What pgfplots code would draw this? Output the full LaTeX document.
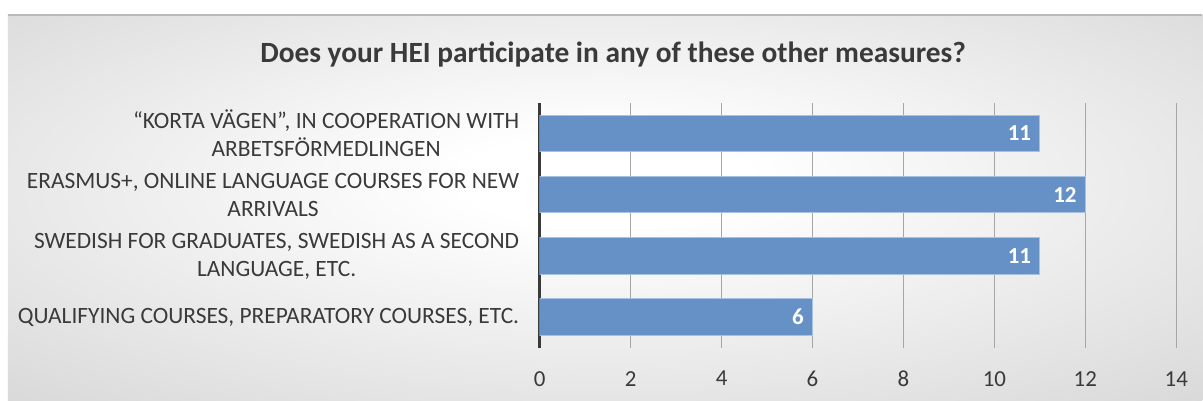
\documentclass[border=0pt]{standalone}
\usepackage{pgfplots}
\pgfplotsset{compat=1.18}
\usepackage{fontspec}
\setmainfont{Carlito}
\definecolor{barblue}{HTML}{6591C6}
\definecolor{baredge}{HTML}{A7C1E2}
\definecolor{txt}{HTML}{3A3A3A}
\definecolor{gridc}{HTML}{A6A6A6}
\definecolor{bgmid}{HTML}{C9C9C9}
\definecolor{bgdark}{HTML}{BDBDBD}
\pgfdeclareradialshading{bgshade}{\pgfpoint{0bp}{4bp}}{color(0bp)=(white); color(6bp)=(white); color(50bp)=(bgmid); color(72bp)=(bgdark)}
\begin{document}
\begin{tikzpicture}[x=1bp,y=1bp]
\path[fill=white] (0,0) rectangle (1203,401);
\shade[shading=bgshade] (8,0) rectangle (1203,386);
\draw[color=gray!55, line width=1.5bp] (8,386) -- (1203,386);
\node[font={\fontsize{29.5}{33}\selectfont\bfseries}, text=txt] at (613.5,346) {Does your HEI participate in any of these other measures?};
\begin{axis}[
  at={(540bp,53bp)}, anchor=south west, scale only axis,
  width=637bp, height=245bp,
  xbar, bar width=36.5bp,
  xmin=0, xmax=14, ymin=-0.5, ymax=3.5,
  xtick={0,2,...,14},
  ytick={0,1,2,3},
  yticklabels={{QUALIFYING COURSES, PREPARATORY COURSES, ETC.},
               {SWEDISH FOR GRADUATES, SWEDISH AS A SECOND\\LANGUAGE, ETC.},
               {ERASMUS+, ONLINE LANGUAGE COURSES FOR NEW\\ARRIVALS},
               {“KORTA VÄGEN”, IN COOPERATION WITH\\ARBETSFÖRMEDLINGEN}},
  yticklabel style={align=center, font={\fontsize{23.5}{28}\selectfont}, text=txt, xshift=-17bp},
  xticklabel style={font={\fontsize{23}{26}\selectfont}, text=txt, yshift=-20bp},
  /pgf/number format/assume math mode=true,
  major tick length=0pt,
  axis lines=left,
  x axis line style={draw=none},
  y axis line style={-, draw=txt, line width=3bp},
  xmajorgrids, grid style={gridc, line width=1bp},
  nodes near coords,
  every node near coord/.append style={anchor=east, xshift=-5bp, text=white, font={\fontsize{23}{26}\selectfont\bfseries}},
]
\addplot[fill=barblue, draw=baredge, line width=1bp] coordinates {(6,0) (11,1) (12,2) (11,3)};
\end{axis}
\end{tikzpicture}
\end{document}
